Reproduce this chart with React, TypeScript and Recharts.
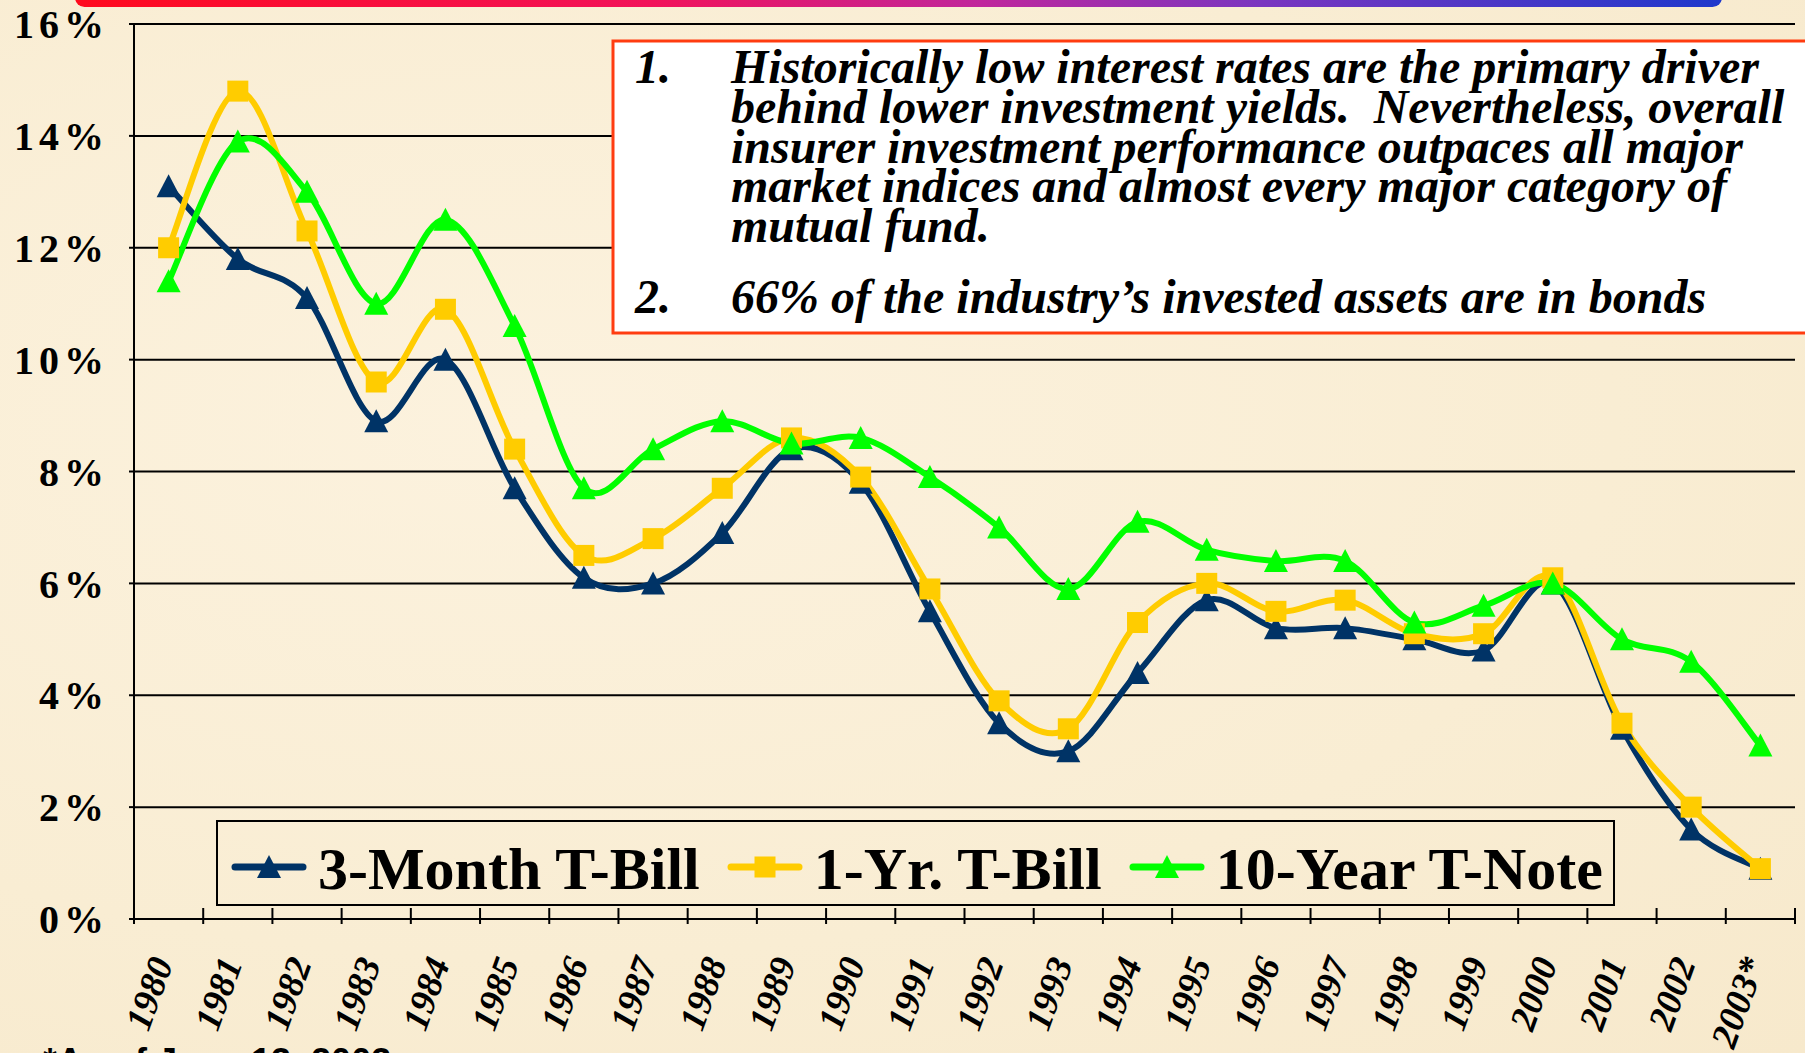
import React from 'react';
import { LineChart, Line, XAxis, YAxis, CartesianGrid, Legend } from 'recharts';

const years = ['1980', '1981', '1982', '1983', '1984', '1985', '1986', '1987', '1988', '1989', '1990', '1991',
  '1992', '1993', '1994', '1995', '1996', '1997', '1998', '1999', '2000', '2001', '2002', '2003*'];

const threeMonth = [13.1, 11.8, 11.1, 8.9, 10.0, 7.7, 6.1, 6.0, 6.9, 8.4, 7.8, 5.5,
  3.5, 3.0, 4.4, 5.7, 5.2, 5.2, 5.0, 4.8, 6.0, 3.4, 1.6, 0.9];
const oneYear = [12.0, 14.8, 12.3, 9.6, 10.9, 8.4, 6.5, 6.8, 7.7, 8.6, 7.9, 5.9,
  3.9, 3.4, 5.3, 6.0, 5.5, 5.7, 5.1, 5.1, 6.1, 3.5, 2.0, 0.9];
const tenYear = [11.4, 13.9, 13.0, 11.0, 12.5, 10.6, 7.7, 8.4, 8.9, 8.5, 8.6, 7.9,
  7.0, 5.9, 7.1, 6.6, 6.4, 6.4, 5.3, 5.6, 6.0, 5.0, 4.6, 3.1];

const yTicks = [0, 2, 4, 6, 8, 10, 12, 14, 16];
const seriesOrder = ['threeMonth', 'oneYear', 'tenYear'];

const noteOne = [
  'Historically low interest rates are the primary driver',
  'behind lower investment yields.  Nevertheless, overall',
  'insurer investment performance outpaces all major',
  'market indices and almost every major category of',
  'mutual fund.',
];
const noteTwo = '66% of the industry\u2019s invested assets are in bonds';
const footnote = '*As of June 13, 2003';

const W = 1805;
const H = 1053;
const PLOT_LEFT = 134;
const PLOT_RIGHT = 1795;
const PLOT_TOP = 24;
const AXIS_Y = 919;
const BAND = (PLOT_RIGHT - PLOT_LEFT) / years.length;

const SERIF = '"Liberation Serif", "Times New Roman", serif';

const data = years.map((year, i) => ({
  year,
  threeMonth: threeMonth[i],
  oneYear: oneYear[i],
  tenYear: tenYear[i],
}));

// smoothed line like the old spreadsheet charts (catmull-rom through the points)
const smoothCurve = (context: any) => {
  let pts: number[][] = [];
  return {
    areaStart() {},
    areaEnd() {},
    lineStart() { pts = []; },
    point(x: number, y: number) { pts.push([+x, +y]); },
    lineEnd() {
      if (!pts.length) return;
      context.moveTo(pts[0][0], pts[0][1]);
      for (let i = 0; i < pts.length - 1; i++) {
        const p0 = pts[i - 1] || pts[i];
        const p1 = pts[i];
        const p2 = pts[i + 1];
        const p3 = pts[i + 2] || pts[i + 1];
        context.bezierCurveTo(
          p1[0] + (p2[0] - p0[0]) / 6, p1[1] + (p2[1] - p0[1]) / 6,
          p2[0] - (p3[0] - p1[0]) / 6, p2[1] - (p3[1] - p1[1]) / 6,
          p2[0], p2[1],
        );
      }
    },
  };
};

const Triangle = ({ cx, cy, color, size = 12 }: any) => (
  <polygon
    points={`${cx},${cy - size} ${cx - size},${cy + size - 1} ${cx + size},${cy + size - 1}`}
    fill={color}
  />
);

const Square = ({ cx, cy, color, size = 10.5 }: any) => (
  <rect x={cx - size} y={cy - size} width={size * 2} height={size * 2} fill={color} />
);

const triangleDot = (color: string) => (props: any) => (
  <Triangle key={`t-${color}-${props.index}`} cx={props.cx} cy={props.cy} color={color} />
);
const squareDot = (color: string) => (props: any) => (
  <Square key={`s-${color}-${props.index}`} cx={props.cx} cy={props.cy} color={color} />
);

const YearTick = ({ x, payload, index }: any) => {
  const ax = x + 5;
  const ay = AXIS_Y + 44;
  return (
    <g>
      <line x1={x - BAND / 2} x2={x - BAND / 2} y1={AXIS_Y - 11} y2={AXIS_Y + 5} stroke="#000" strokeWidth={2} />
      {index === years.length - 1 && (
        <line x1={x + BAND / 2} x2={x + BAND / 2} y1={AXIS_Y - 11} y2={AXIS_Y + 5} stroke="#000" strokeWidth={2} />
      )}
      <text
        x={ax}
        y={ay}
        transform={`rotate(-70 ${ax} ${ay})`}
        textAnchor="end"
        fontFamily={SERIF}
        fontStyle="italic"
        fontWeight={700}
        fontSize={37}
        fill="#000"
      >
        {payload.value}
      </text>
    </g>
  );
};

const LegendBox = ({ payload }: any) => {
  const items = [...(payload || [])].sort(
    (a: any, b: any) => seriesOrder.indexOf(a.dataKey) - seriesOrder.indexOf(b.dataKey),
  );
  return (
    <div
      style={{
        width: '100%',
        height: '100%',
        boxSizing: 'border-box',
        border: '2.5px solid #000',
        display: 'flex',
        alignItems: 'center',
        paddingLeft: 13,
        paddingTop: 12,
      }}
    >
      {items.map((entry: any, i: number) => (
        <div key={entry.value} style={{ display: 'flex', alignItems: 'center', marginLeft: i ? 27 : 0 }}>
          <svg width={76} height={30}>
            <line x1={4} y1={13} x2={72} y2={13} stroke={entry.color} strokeWidth={7} strokeLinecap="round" />
            {entry.dataKey === 'oneYear'
              ? <Square cx={38} cy={13} color={entry.color} />
              : <Triangle cx={38} cy={13} color={entry.color} />}
          </svg>
          <span
            style={{
              marginLeft: 11,
              fontFamily: SERIF,
              fontWeight: 700,
              fontSize: 60,
              lineHeight: '58px',
              color: '#000',
              whiteSpace: 'pre',
            }}
          >
            {entry.value}
          </span>
        </div>
      ))}
    </div>
  );
};

export default function App() {
  return (
    <div
      style={{
        position: 'absolute',
        left: 0,
        top: 0,
        width: W,
        height: H,
        overflow: 'hidden',
        background: 'radial-gradient(ellipse at 30% 40%, #FCF2DE 0%, #F9EDD3 60%, #F7E9CC 100%)',
      }}
    >
      <div
        style={{
          position: 'absolute',
          left: 75,
          top: -12,
          width: 1647,
          height: 19,
          borderRadius: 10,
          background: 'linear-gradient(90deg, #FF0A1E 0%, #F2125A 35%, #C0269C 55%, #7A35C0 72%, #1E38CC 100%)',
        }}
      />

      <LineChart
        width={W}
        height={H}
        data={data}
        margin={{ top: PLOT_TOP, right: W - PLOT_RIGHT, bottom: 0, left: 0 }}
      >
        <CartesianGrid vertical={false} stroke="#000" strokeWidth={2} />
        <XAxis
          dataKey="year"
          interval={0}
          height={H - AXIS_Y}
          padding={{ left: BAND / 2, right: BAND / 2 }}
          axisLine={{ stroke: '#000', strokeWidth: 2 }}
          tickLine={false}
          tick={<YearTick />}
        />
        <YAxis
          domain={[0, 16]}
          ticks={yTicks}
          width={PLOT_LEFT}
          tickFormatter={(v: number) => `${v}%`}
          axisLine={{ stroke: '#000', strokeWidth: 2 }}
          tickLine={{ stroke: '#000', strokeWidth: 2 }}
          tickSize={5}
          tickMargin={20}
          tick={{ fill: '#000', fontSize: 40, fontWeight: 700, fontFamily: SERIF, letterSpacing: 5 }}
        />
        <Legend
          layout="horizontal"
          verticalAlign="middle"
          align="center"
          itemSorter={(item: any) => seriesOrder.indexOf(item.dataKey)}
          wrapperStyle={{ left: 216, top: 820, width: 1399, height: 86 }}
          content={<LegendBox />}
        />
        <Line
          dataKey="threeMonth"
          name="3-Month T-Bill"
          type={smoothCurve as any}
          stroke="#003366"
          strokeWidth={6}
          dot={triangleDot('#003366')}
          activeDot={false}
          isAnimationActive={false}
        />
        <Line
          dataKey="oneYear"
          name="1-Yr. T-Bill"
          type={smoothCurve as any}
          stroke="#FFCC00"
          strokeWidth={6}
          dot={squareDot('#FFCC00')}
          activeDot={false}
          isAnimationActive={false}
        />
        <Line
          dataKey="tenYear"
          name="10-Year T-Note"
          type={smoothCurve as any}
          stroke="#00FF00"
          strokeWidth={6}
          dot={triangleDot('#00FF00')}
          activeDot={false}
          isAnimationActive={false}
        />
      </LineChart>

      <svg style={{ position: 'absolute', left: 0, top: 0, pointerEvents: 'none' }} width={W} height={H}>
        <rect x={613} y={41} width={1300} height={292} fill="#FFFFFF" stroke="#FF3C10" strokeWidth={3} />
        <g fontFamily={SERIF} fontStyle="italic" fontWeight={700} fontSize={48} fill="#000">
          <text x={635} y={83}>1.</text>
          {noteOne.map((line, i) => (
            <text key={i} x={731} y={83 + i * 39.75} xmlSpace="preserve" style={{ whiteSpace: 'pre' }}>{line}</text>
          ))}
          <text x={635} y={313}>2.</text>
          <text x={731} y={313} xmlSpace="preserve">{noteTwo}</text>
        </g>
        <text
          x={43}
          y={1074}
          fontFamily='"Liberation Sans", Arial, sans-serif'
          fontWeight={700}
          fontSize={36}
          fill="#000"
        >
          {footnote}
        </text>
      </svg>
    </div>
  );
}
